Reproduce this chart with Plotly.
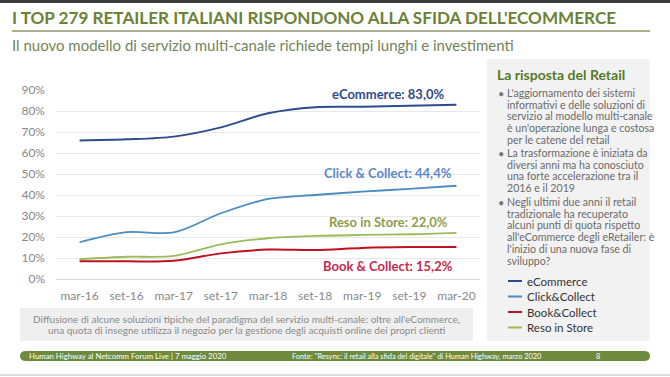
import plotly.graph_objects as go

W, H = 670, 377

# ---------------- data ----------------
periods = ["mar-16", "set-16", "mar-17", "set-17", "mar-18", "set-18", "mar-19", "set-19", "mar-20"]
ecommerce = [66.0, 66.5, 67.8, 72.2, 78.9, 81.8, 82.0, 82.5, 83.0]
click_collect = [17.5, 22.3, 22.2, 31.3, 38.1, 40.0, 41.6, 42.9, 44.4]
book_collect = [8.4, 8.4, 8.7, 12.2, 14.0, 13.8, 14.8, 15.2, 15.2]
reso_store = [9.4, 10.6, 11.0, 16.5, 19.4, 20.5, 21.0, 21.3, 22.0]
y_ticks = [0, 10, 20, 30, 40, 50, 60, 70, 80, 90]
y_tick_text = ["0%", "10%", "20%", "30%", "40%", "50%", "60%", "70%", "80%", "90%"]

series_names = ["eCommerce", "Click&Collect", "Book&Collect", "Reso in Store"]
end_labels = ["eCommerce: 83,0%", "Click & Collect: 44,4%", "Reso in Store: 22,0%", "Book & Collect: 15,2%"]

title = "I TOP 279 RETAILER ITALIANI RISPONDONO ALLA SFIDA DELL'ECOMMERCE"
subtitle = "Il nuovo modello di servizio multi-canale richiede tempi lunghi e investimenti"
panel_title = "La risposta del Retail"
bullets = [
    ["L'aggiornamento dei sistemi", "informativi e delle soluzioni di",
     "servizio al modello multi-canale", "è un'operazione lunga e costosa",
     "per le catene del retail"],
    ["La trasformazione è iniziata da", "diversi anni ma ha conosciuto",
     "una forte accelerazione tra il", "2016 e il 2019"],
    ["Negli ultimi due anni il retail", "tradizionale ha recuperato",
     "alcuni punti di quota rispetto", "all'eCommerce degli eRetailer: è",
     "l'inizio di una nuova fase di", "sviluppo?"],
]
caption = ["Diffusione di alcune soluzioni tipiche del paradigma del servizio multi-canale: oltre all'eCommerce,",
           "una quota di insegne utilizza il negozio per la gestione degli acquisti online dei propri clienti"]
footer_left = "Human Highway al Netcomm Forum Live | 7 maggio 2020"
footer_right = "Fonte: ''Resync: il retail alla sfida del digitale'' di Human Highway, marzo 2020"
page_no = "8"

# ---------------- styles ----------------
FONT = "Lato"
C_ECOM = "#2D4C8F"
C_CLICK = "#4A8CC2"
C_BOOK = "#C0121E"
C_RESO = "#9BBB59"
series_colors = [C_ECOM, C_CLICK, C_BOOK, C_RESO]
label_colors = {"eCommerce: 83,0%": "#2F4B8A", "Click & Collect: 44,4%": "#5C86C9",
                "Reso in Store: 22,0%": "#8E9B4C", "Book & Collect: 15,2%": "#C52A4A"}


def px(x):
    return x / W


def py(y):
    return 1 - y / H


fig = go.Figure()
for name, vals, col, lw in zip(series_names, [ecommerce, click_collect, book_collect, reso_store],
                               series_colors, [2.0, 1.8, 2.0, 1.8]):
    fig.add_trace(go.Scatter(x=periods, y=vals, mode="lines", name=name,
                             line=dict(color=col, width=lw, shape="spline", smoothing=0.9),
                             showlegend=False, hoverinfo="skip"))

shapes = []
annotations = []

# top dark strip
shapes.append(dict(type="rect", xref="paper", yref="paper", x0=0, x1=1, y0=py(3), y1=1,
                   fillcolor="#3C3C3C", line=dict(width=0), layer="below"))
# title underline
shapes.append(dict(type="line", xref="paper", yref="paper", x0=px(12), x1=px(650), y0=py(31), y1=py(31),
                   line=dict(color="#8D9B6A", width=1.5)))
# right panel
shapes.append(dict(type="rect", xref="paper", yref="paper", x0=px(487), x1=px(650), y0=py(341), y1=py(59),
                   fillcolor="#F2F2F2", line=dict(width=0), layer="below"))
# caption box
shapes.append(dict(type="rect", xref="paper", yref="paper", x0=px(20), x1=px(473), y0=py(341), y1=py(308),
                   fillcolor="#EFEFEF", line=dict(width=0), layer="below"))
# footer band (rounded)
fx0, fx1, fy0, fy1, r = px(20), px(650), py(361), py(351), px(6)
ym = (fy0 + fy1) / 2
path = (f"M {fx0 + r},{fy1} L {fx1 - r},{fy1} Q {fx1},{fy1} {fx1},{ym} Q {fx1},{fy0} {fx1 - r},{fy0} "
        f"L {fx0 + r},{fy0} Q {fx0},{fy0} {fx0},{ym} Q {fx0},{fy1} {fx0 + r},{fy1} Z")
shapes.append(dict(type="path", xref="paper", yref="paper", path=path,
                   fillcolor="#6E8B3D", line=dict(width=0)))
# bottom grey line
shapes.append(dict(type="line", xref="paper", yref="paper", x0=0, x1=1, y0=py(375), y1=py(375),
                   line=dict(color="#CFCFCF", width=1.5)))


def text(x, y, s, size, color, anchor="left", bold=False):
    if bold:
        s = "<b>" + s + "</b>"
    annotations.append(dict(x=px(x), y=py(y), xref="paper", yref="paper", text=s, showarrow=False,
                            xanchor=anchor, yanchor="middle",
                            font=dict(family=FONT, size=size, color=color)))


text(10, 17, title, 17.1, "#6B8135", bold=True)
text(10, 45, subtitle, 15.0, "#73845A")
text(495, 74, panel_title, 14, "#567A28", bold=True)

line_ys = [[93, 104.7, 116.4, 128.1, 139.8], [153, 164.7, 176.4, 188.1],
           [202, 213.7, 225.4, 237.1, 248.8, 260.5]]
for para, ys in zip(bullets, line_ys):
    text(496, ys[0], "•", 11, "#777777")
    for s, yy in zip(para, ys):
        text(505, yy, s, 10.6, "#6A6A6A")

legend_ys = [281, 296.5, 312, 327.5]
for name, col, yy in zip(series_names, series_colors, legend_ys):
    shapes.append(dict(type="line", xref="paper", yref="paper", x0=px(508), x1=px(522), y0=py(yy), y1=py(yy),
                       line=dict(color=col, width=2)))
    text(525, yy, name, 11.5, "#333333")

# end-of-line labels (anchored to data coordinates)
label_y = {"eCommerce: 83,0%": 88.3, "Click & Collect: 44,4%": 50.6,
           "Reso in Store: 22,0%": 27.1, "Book & Collect: 15,2%": 6.3}
for s in end_labels:
    annotations.append(dict(x="set-18", y=label_y[s], xref="x", yref="y", text="<b>" + s + "</b>",
                            showarrow=False, xanchor="center", yanchor="middle", xshift=73,
                            font=dict(family=FONT, size=13, color=label_colors[s])))

text(246.5, 318.5, caption[0], 10, "#8A8A8A", anchor="center")
text(246.5, 330, caption[1], 10, "#8A8A8A", anchor="center")

text(27, 356, footer_left, 7.8, "#FFFFFF")
text(290, 356, footer_right, 7.4, "#FFFFFF")
text(594, 356, page_no, 7.4, "#FFFFFF")

fig.update_layout(
    width=W, height=H, margin=dict(l=0, r=0, t=0, b=0, autoexpand=False),
    paper_bgcolor="white", plot_bgcolor="white",
    shapes=shapes, annotations=annotations, showlegend=False,
    xaxis=dict(domain=[px(56), px(480)], type="category", categoryorder="array", categoryarray=periods,
               range=[-0.5, len(periods) - 0.5],
               showgrid=False, zeroline=False, showline=False, ticks="", automargin=False,
               ticklabelstandoff=8,
               tickfont=dict(family=FONT, size=12, color="#888888")),
    yaxis=dict(domain=[py(279), py(90)], range=[0, 90], tickvals=y_ticks, ticktext=y_tick_text,
               showgrid=True, gridcolor="#E8E8E8", gridwidth=1, zeroline=True, zerolinecolor="#D6D6D6",
               zerolinewidth=1, showline=False, ticks="", automargin=False, ticklabelstandoff=10,
               tickfont=dict(family=FONT, size=12, color="#888888")),
)

fig.write_html("out.html", config={"displayModeBar": False},
               post_script="document.body.style.margin='0';document.body.style.overflow='hidden';")
